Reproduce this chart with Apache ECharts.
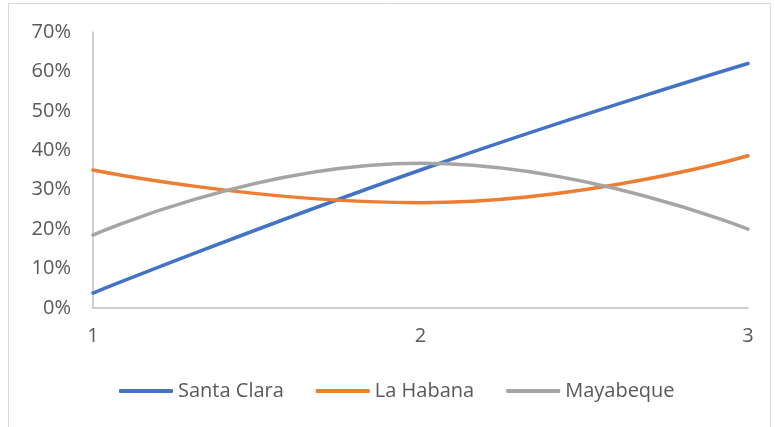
<!DOCTYPE html>
<html>
<head>
<meta charset="utf-8">
<script src="https://cdn.jsdelivr.net/npm/echarts@6/dist/echarts.min.js"></script>
<style>
  html, body { margin: 0; padding: 0; background: #ffffff; }
  #chart { width: 775px; height: 427px; }
</style>
</head>
<body>
<div id="chart"></div>
<script>
// Categories along the horizontal axis
const categories = ['1', '2', '3'];

// Share per province (fractions of 1)
const santaClara = [0.038, 0.35, 0.62];
const laHabana = [0.35, 0.267, 0.386];
const mayabeque = [0.185, 0.367, 0.20];

const seriesNames = ['Santa Clara', 'La Habana', 'Mayabeque'];
const seriesColors = ['#4472c4', '#ed7d31', '#a5a5a5'];
const seriesValues = [santaClara, laHabana, mayabeque];

const textColor = '#595959';
const fontFamily = '"Open Sans", "Liberation Sans", sans-serif';

const chart = echarts.init(document.getElementById('chart'), null, { renderer: 'canvas' });

chart.setOption({
  animation: false,
  backgroundColor: '#ffffff',
  graphic: [{
    type: 'rect',
    shape: { x: 8.5, y: 3.5, width: 762, height: 440 },
    style: { fill: 'none', stroke: '#d9d9d9', lineWidth: 1 },
    silent: true
  }],
  grid: { left: 93, right: 27, top: 32, bottom: 119, containLabel: false },
  legend: {
    left: 119,
    top: 381,
    padding: 0,
    icon: 'roundRect',
    itemWidth: 54,
    itemHeight: 4,
    itemGap: 32,
    textStyle: { color: textColor, fontSize: 20, fontFamily: fontFamily, padding: [0, 0, 0, 0] },
    data: seriesNames
  },
  xAxis: {
    type: 'category',
    data: categories,
    boundaryGap: false,
    axisLine: { show: true, lineStyle: { color: '#bfbfbf', width: 1.5 } },
    axisTick: { show: false },
    axisLabel: { color: textColor, fontSize: 20, fontFamily: fontFamily, margin: 18 },
    splitLine: { show: false }
  },
  yAxis: {
    type: 'value',
    min: 0,
    max: 0.7,
    interval: 0.1,
    axisLine: { show: true, lineStyle: { color: '#bfbfbf', width: 1.5 } },
    axisTick: { show: false },
    splitLine: { show: false },
    axisLabel: {
      color: textColor,
      fontSize: 20,
      fontFamily: fontFamily,
      margin: 22,
      formatter: v => Math.round(v * 100) + '%'
    }
  },
  series: seriesNames.map((name, i) => ({
    name: name,
    type: 'line',
    data: seriesValues[i],
    smooth: 0.5,
    symbol: 'none',
    lineStyle: { color: seriesColors[i], width: 3.5, cap: 'round' },
    itemStyle: { color: seriesColors[i] }
  }))
});
</script>
</body>
</html>
